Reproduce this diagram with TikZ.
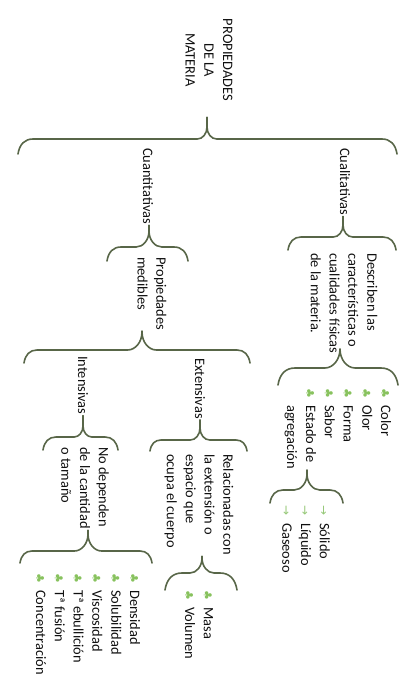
\documentclass[tikz,border=0pt]{standalone}
\usepackage{fontspec}
\setmainfont{Carlito}
\newfontfamily\symfont{DejaVu Sans}
\definecolor{bracec}{RGB}{88,102,72}
\definecolor{bulc}{RGB}{136,194,94}
\definecolor{arrc}{RGB}{150,200,120}
\definecolor{txtc}{RGB}{15,15,15}
\newcommand\bul{\makebox[17pt][l]{\fontsize{11}{11}\symfont\textcolor{bulc}{♣}}}
\newcommand\arr{\makebox[18pt][l]{\fontsize{12}{12}\symfont\textcolor{arrc}{→}}}
% name, x1, xm, x2, ytip, ymid, yend
\newcommand\mybrace[7]{%
  \pgfmathsetmacro\bcr{#7-#6}%
  \pgfmathsetmacro\bth{#6-#5}%
  \pgfmathsetmacro\btw{0.8*(#6-#5)}%
  \coordinate (#1) at (#3,#5);
  \draw[bracestyle] (#2,#7)
    .. controls (#2+0.1*\bcr,#6+0.35*\bcr) and (#2+0.45*\bcr,#6) .. (#2+\bcr,#6)
    -- (#3-\btw,#6)
    .. controls (#3-0.45*\btw,#6) and (#3,#6-0.45*\bth) .. (#3,#5)
    .. controls (#3,#6-0.45*\bth) and (#3+0.45*\btw,#6) .. (#3+\btw,#6)
    -- (#4-\bcr,#6)
    .. controls (#4-0.45*\bcr,#6) and (#4-0.1*\bcr,#6+0.35*\bcr) .. (#4,#7);
}
\begin{document}
\begin{tikzpicture}[x=1pt,y=-1pt,
  bracestyle/.style={draw=bracec, line width=1.6pt, line cap=round},
  txt/.style={rotate=-90, anchor=west, align=left, inner sep=1pt, text=txtc,
    font=\fontsize{14.4}{18.8}\selectfont}]
\useasboundingbox (0,0) rectangle (413,699);

% nodes
\node[txt, align=center, anchor=center] (title) at (209,60) {PROPIEDADES\\DE LA\\MATERIA};
\node[txt] (cuanti) at (148,147) {Cuantitativas};
\node[txt] (cuali) at (345,147) {Cualitativas};
\node[txt] (propmed) at (152,256) {Propiedades\\medibles};
\node[txt] (describen) at (344,252) {Describen las\\características o\\cualidades físicas\\de la materia.};
\node[txt] (cualilist) at (338,387) {\bul Color\\\bul Olor\\\bul Forma\\\bul Sabor\\\bul Estado de\\\hspace*{17pt}agregación};
\node[txt] (estados) at (306,504) {\arr Sólido\\\arr Líquido\\\arr Gaseoso};
\node[txt] (extensivas) at (200,357) {Extensivas};
\node[txt] (intensivas) at (83,355) {Intensivas};
\node[txt] (relacion) at (199,453) {Relacionadas con\\la extensión o\\espacio que\\ocupa el cuerpo};
\node[txt] (nodep) at (85,446) {No dependen\\de la cantidad\\o tamaño};
\node[txt] (masa) at (199,589) {\bul Masa\\\bul Volumen};
\node[txt] (intlist) at (88,572) {\bul Densidad\\\bul Solubilidad\\\bul Viscosidad\\\bul Tª ebullición\\\bul Tª fusión\\\bul Concentración};

% braces
\mybrace{b1}{18}{207}{397}{127}{139}{154}
\mybrace{b2}{107}{149}{188}{231}{247}{261}
\mybrace{b3}{288}{343}{396}{225}{237}{250}
\mybrace{b4}{24}{142}{250}{332}{350}{363}
\mybrace{b5}{278}{340}{398}{349}{368}{385}
\mybrace{b6}{270}{307}{343}{474}{490}{503}
\mybrace{b7}{150}{200}{247}{428}{440}{451}
\mybrace{b8}{43}{83}{118}{426}{437}{450}
\mybrace{b9}{165}{202}{237}{558}{573}{590}
\mybrace{b10}{20}{88}{152}{534}{551}{563}

% stems
\draw[bracestyle] ([yshift=-15pt]b1 |- title.east) -- (b1);
\draw[bracestyle] (b2 |- cuanti.east) -- (b2);
\draw[bracestyle] (b3 |- cuali.east) -- (b3);
\draw[bracestyle] (b4 |- propmed.east) -- (b4);
\draw[bracestyle] (b5 |- describen.east) -- (b5);
\draw[bracestyle] (b6 |- cualilist.east) -- (b6);
\draw[bracestyle] (b7 |- extensivas.east) -- (b7);
\draw[bracestyle] (b8 |- intensivas.east) -- (b8);
\draw[bracestyle] (b9 |- relacion.east) -- (b9);
\draw[bracestyle] (b10 |- nodep.east) -- (b10);
\end{tikzpicture}
\end{document}
